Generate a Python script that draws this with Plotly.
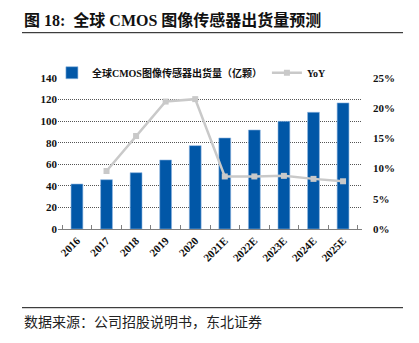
import plotly.graph_objects as go

years = ["2016", "2017", "2018", "2019", "2020", "2021E", "2022E", "2023E", "2024E", "2025E"]
shipments = [41.7, 45.7, 52.2, 64.0, 77.3, 84.4, 91.8, 99.8, 108.2, 116.9]
yoy = [None, 0.096, 0.154, 0.211, 0.215, 0.087, 0.087, 0.088, 0.083, 0.079]
left_ticks = [0, 20, 40, 60, 80, 100, 120, 140]
right_ticks = [0, 0.05, 0.10, 0.15, 0.20, 0.25]
right_labels = ["0%", "5%", "10%", "15%", "20%", "25%"]

SERIF = "Liberation Serif, Noto Sans CJK SC, serif"
CJK = "Liberation Serif, Noto Sans CJK SC, sans-serif"

fig = go.Figure()
fig.add_trace(go.Bar(
    x=years, y=shipments, name="全球CMOS图像传感器出货量（亿颗）",
    marker=dict(color="#0157a7", line=dict(color="#8fb6e0", width=0.6)),
    width=0.4, yaxis="y",
))
fig.add_trace(go.Scatter(
    x=years, y=yoy, name="YoY", mode="lines+markers", yaxis="y2",
    line=dict(color="#c9c9c9", width=2.5),
    marker=dict(symbol="square", size=6, color="#c9c9c9"),
))

fig.update_layout(
    width=419, height=343,
    margin=dict(l=58, r=57, t=78, b=114),
    paper_bgcolor="white", plot_bgcolor="white",
    showlegend=True,
    legend=dict(
        orientation="h", x=-0.02, xanchor="left", y=1.035, yanchor="middle",
        bgcolor="rgba(0,0,0,0)",
        font=dict(family=CJK, size=10, color="#111", weight="bold"),
        itemwidth=30, tracegroupgap=0,
    ),
    bargap=0.6,
    xaxis=dict(
        type="category", tickangle=-45, showgrid=False,
        showline=True, linecolor="#7f7f7f", linewidth=1,
        ticks="inside", tickson="boundaries", ticklen=4, tickcolor="#7f7f7f",
        tickfont=dict(family=SERIF, size=11, color="#111", weight="bold"),
    ),
    yaxis=dict(
        range=[0, 140], tickvals=left_ticks, showgrid=True,
        gridcolor="#555", griddash="1px,1px", gridwidth=1,
        zeroline=False, showline=False, ticks="",
        tickfont=dict(family=SERIF, size=11, color="#111", weight="bold"),
    ),
    yaxis2=dict(
        overlaying="y", side="right", range=[0, 0.25],
        tickvals=right_ticks, ticktext=right_labels, showgrid=False,
        zeroline=False, showline=False, ticks="", ticklabelstandoff=10,
        tickfont=dict(family=SERIF, size=11, color="#111", weight="bold"),
    ),
)

# Header and source lines, placed in paper coordinates
def px_x(px):
    return (px - 58) / 304.0

def px_y(py):
    return (229.3 - py) / 151.0

fig.add_annotation(
    text="<b>图 18:  全球 CMOS 图像传感器出货量预测</b>",
    xref="paper", yref="paper", x=px_x(22), y=px_y(20),
    xanchor="left", yanchor="middle", showarrow=False,
    font=dict(family=CJK, size=16, color="#111"),
)
fig.add_annotation(
    text="数据来源：公司招股说明书，东北证券",
    xref="paper", yref="paper", x=px_x(22), y=px_y(323),
    xanchor="left", yanchor="middle", showarrow=False,
    font=dict(family=CJK, size=14, color="#222"),
)
fig.add_shape(type="line", xref="paper", yref="paper",
              x0=px_x(22), x1=px_x(403), y0=px_y(33), y1=px_y(33),
              line=dict(color="#111", width=1))
fig.add_shape(type="line", xref="paper", yref="paper",
              x0=px_x(22), x1=px_x(403), y0=px_y(308), y1=px_y(308),
              line=dict(color="#111", width=1))

fig.write_html("out.html")
